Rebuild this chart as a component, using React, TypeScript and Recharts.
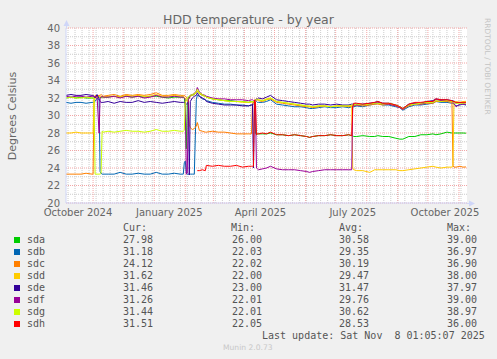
import { LineChart, Line, XAxis, YAxis, CartesianGrid } from "recharts";

// day 0 = 5 Oct 2024, last sample = 8 Nov 2025
const days = [
  0, 5, 10, 15, 20, 26,
  27, 28, 29, 31, 33, 34, 35, 36, 37,
  42, 48, 54, 60, 66, 72, 78, 84, 90, 96, 102, 108, 114,
  117, 118, 119, 120, 121, 122, 123, 124, 126, 128, 130, 131, 133, 136, 139,
  140, 146, 152, 158, 164, 170, 176, 182, 185,
  186, 187, 188, 189, 190, 191, 192,
  196, 200, 204, 210, 216, 222, 228, 234, 240, 243, 246, 252, 258, 264, 270, 276, 282, 285,
  286, 287,
  290, 296, 303, 308, 311, 316, 322, 329, 333, 336, 342, 348, 354, 360, 366, 369, 374, 380, 385,
  386, 387, 389, 393, 396, 399,
];

const sda = [
  32.0, 32.1, 32.0, 32.1, 32.0, 32.0,
  32.0, 32.0, 32.1, 32.2, 32.1, 32.1, 32.0, 32.1, 32.1,
  32.1, 32.2, 32.1, 32.2, 32.1, 32.2, 32.1, 32.2, 32.2, 32.1, 32.0, 32.1, 32.1,
  32.1, 32.0, 31.0, 26.2, 31.2, 32.0, 32.2, 32.3, 32.3, 32.4, 32.6, 32.8, 32.5, 32.3, 32.2,
  32.1, 31.9, 31.8, 31.7, 31.7, 31.6, 31.6, 31.5, 31.6,
  31.6, 31.5, 31.4, 28.0, 27.8, 27.9, 27.9,
  27.9, 27.9, 28.0, 27.8, 27.8, 27.7, 27.8, 27.7, 27.6, 27.5, 27.6, 27.7, 27.7, 27.8, 27.7, 27.7, 27.8, 27.7,
  27.7, 27.6,
  27.6, 27.7, 27.6, 27.6, 27.7, 27.6, 27.6, 27.4, 27.3, 27.3, 27.6, 27.6, 27.8, 27.8, 27.9, 27.8, 27.9, 28.1, 28.0,
  28.0, 28.0, 28.0, 28.0, 28.0, 27.98,
];

const sdb = [
  31.5, 31.4, 31.5, 31.5, 31.4, 31.5,
  31.5, 31.5, 31.6, 32.0, 31.8, 23.6, 23.4, 23.3, 23.3,
  23.3, 23.3, 23.5, 23.3, 23.3, 23.4, 23.3, 23.3, 23.5, 23.3, 23.3, 23.4, 23.3,
  23.3, 24.6, 24.8, 23.4, 23.3, 23.3, 23.3, 23.3, 23.3, 23.3, 31.8, 32.3, 32.2, 31.9, 31.8,
  31.7, 31.5, 31.4, 31.3, 31.3, 31.2, 31.2, 31.1, 31.2,
  31.2, 31.3, 31.4, 31.5, 31.6, 31.5, 31.5,
  31.5, 31.6, 31.8, 31.3, 31.2, 31.1, 31.0, 31.0, 30.9, 30.8, 30.8, 30.9, 31.0, 30.9, 30.9, 31.0, 30.9, 31.0,
  31.0, 31.0,
  31.1, 31.0, 31.2, 31.3, 31.4, 31.2, 31.2, 31.0, 30.9, 30.6, 31.0, 31.2, 31.2, 31.3, 31.4, 31.6, 31.5, 31.5, 31.4,
  31.4, 31.3, 31.1, 31.2, 31.3, 31.18,
];

const sdc = [
  23.3, 23.3, 23.3, 23.3, 23.4, 23.3,
  23.3, 31.8, 32.3, 32.2, 32.3, 32.3, 32.4, 32.3, 32.2,
  32.3, 32.4, 32.2, 32.4, 32.3, 32.4, 32.3, 32.4, 32.6, 32.3, 32.3, 32.4, 32.3,
  32.3, 32.3, 32.2, 32.1, 32.0, 31.9, 29.0, 28.6, 28.4, 28.5, 28.8, 29.2, 28.3, 28.2, 28.1,
  28.1, 28.2, 28.1, 28.1, 28.0, 27.9, 27.9, 27.9, 27.9,
  31.3, 31.6, 31.7, 31.8, 31.7, 31.8, 31.7,
  31.6, 31.8, 31.9, 31.5, 31.4, 31.3, 31.2, 31.1, 31.0, 31.0, 30.9, 31.0, 31.1, 31.0, 31.1, 31.1, 31.0, 31.1,
  31.1, 31.1,
  31.2, 31.1, 31.2, 31.3, 31.3, 31.2, 31.3, 31.1, 30.9, 30.7, 31.1, 31.3, 31.3, 31.4, 31.4, 31.6, 31.6, 31.6, 31.5,
  24.3, 24.1, 24.1, 24.2, 24.1, 24.12,
];

const sdd = [
  28.0, 28.0, 28.1, 28.0, 28.0, 28.0,
  28.0, 31.6, 32.0, 32.1, 32.1, 32.2, 32.1, 32.2, 32.1,
  32.2, 32.2, 32.1, 32.3, 32.2, 32.3, 32.2, 32.2, 32.4, 32.2, 32.2, 32.3, 32.2,
  32.2, 32.1, 32.0, 31.8, 31.6, 31.8, 32.0, 32.2, 32.3, 32.4, 32.6, 32.8, 32.5, 32.3, 32.2,
  32.1, 31.9, 31.8, 31.7, 31.6, 31.6, 31.5, 31.5, 31.5,
  31.5, 31.6, 31.7, 31.8, 31.8, 31.8, 31.8,
  31.7, 31.9, 32.0, 31.6, 31.5, 31.4, 31.3, 31.2, 31.1, 31.0, 31.0, 31.1, 31.1, 31.0, 31.1, 31.1, 31.1, 31.1,
  24.0, 23.8,
  23.7, 23.7, 23.5, 23.8, 23.8, 23.8, 23.8, 23.8, 23.7, 23.7, 23.8, 23.9, 24.0, 24.1, 24.2, 24.1, 24.0, 24.1, 24.1,
  24.3, 31.5, 31.6, 31.5, 31.6, 31.62,
];

const sde = [
  32.3, 32.4, 32.3, 32.3, 32.4, 32.3,
  32.3, 32.2, 32.0, 32.4, 31.9, 31.6, 31.5, 31.5, 31.5,
  31.6, 31.4, 31.6, 31.5, 31.5, 31.7, 31.5, 31.6, 31.5, 31.4, 31.5, 31.6, 31.5,
  31.5, 31.5, 31.4, 31.3, 31.4, 31.5, 23.2, 31.6, 32.0, 32.2, 32.3, 32.6, 32.2, 32.0, 31.8,
  31.6, 31.4, 31.3, 31.2, 31.2, 31.2, 31.1, 31.1, 31.2,
  31.3, 24.0, 31.6, 31.8, 31.9, 31.9, 32.0,
  31.9, 32.1, 32.3, 31.8, 31.7, 31.6, 31.5, 31.4, 31.3, 31.3, 31.2, 31.3, 31.3, 31.2, 31.3, 31.2, 31.2, 31.3,
  31.3, 31.3,
  31.3, 31.3, 31.4, 31.5, 31.6, 31.4, 31.4, 31.2, 31.0, 30.8, 31.3, 31.4, 31.4, 31.6, 31.7, 31.9, 31.8, 31.8, 31.7,
  31.7, 31.6, 31.4, 31.5, 31.4, 31.46,
];

const sdf = [
  32.2, 32.1, 32.2, 32.2, 32.1, 32.2,
  32.2, 32.1, 32.1, 32.2, 28.0, 32.0, 32.1, 32.2, 32.1,
  32.1, 32.2, 32.0, 32.2, 32.1, 32.2, 32.0, 32.1, 32.3, 32.1, 32.1, 32.2, 32.1,
  32.1, 32.0, 31.8, 23.3, 23.4, 31.8, 32.0, 32.3, 32.4, 32.5, 32.8, 33.2, 32.7, 32.4, 32.3,
  32.2, 32.0, 31.9, 31.9, 31.8, 31.8, 31.8, 31.7, 31.8,
  31.8, 31.7, 31.6, 31.2, 24.0, 23.9, 23.8,
  23.9, 24.0, 24.2, 23.9, 23.8, 23.8, 23.8, 23.7, 23.6, 23.5, 23.6, 23.7, 23.8, 23.8, 23.8, 23.8, 23.8, 23.8,
  31.0, 31.2,
  31.2, 31.2, 31.3, 31.4, 31.5, 31.3, 31.3, 31.1, 30.9, 30.7, 31.2, 31.4, 31.3, 31.5, 31.6, 31.8, 31.7, 31.7, 31.6,
  31.5, 31.4, 31.0, 31.3, 31.3, 31.26,
];

const sdg = [
  32.0, 32.1, 32.0, 32.0, 32.1, 32.0,
  32.0, 32.0, 23.3, 23.3, 23.3, 23.3, 23.4, 28.2, 28.1,
  28.2, 28.1, 28.2, 28.3, 28.2, 28.2, 28.1, 28.2, 28.4, 28.2, 28.2, 28.3, 28.2,
  28.2, 28.3, 31.5, 31.8, 32.0, 32.1, 32.2, 32.3, 32.4, 32.5, 32.7, 33.0, 32.6, 32.4, 32.2,
  32.1, 31.9, 31.8, 31.7, 31.6, 31.6, 31.6, 31.5, 31.6,
  31.6, 31.6, 31.7, 31.8, 31.8, 31.9, 31.8,
  31.7, 31.8, 32.0, 31.6, 31.5, 31.4, 31.3, 31.2, 31.1, 31.1, 31.0, 31.1, 31.1, 31.0, 31.1, 31.1, 31.1, 31.2,
  31.2, 31.2,
  31.3, 31.2, 31.3, 31.4, 31.4, 31.3, 31.4, 31.2, 31.0, 30.8, 31.2, 31.3, 31.4, 31.5, 31.5, 31.7, 31.6, 31.7, 31.6,
  31.6, 31.5, 31.4, 31.4, 31.4, 31.44,
];

const sdh = [
  null, null, null, null, null, null,
  null, null, null, null, null, null, null, null, null,
  null, null, null, null, null, null, null, null, null, null, null, null, null,
  null, null, null, null, null, null, null, null, null, null, null, 23.7, 23.7, 23.8, 23.7,
  24.3, 24.2, 24.3, 24.2, 24.2, 24.3, 24.1, 24.2, 24.2,
  24.2, 24.2, 31.8, 31.6, 27.8, 27.9, 27.9,
  28.0, 27.9, 28.1, 27.8, 27.8, 27.7, 27.8, 27.7, 27.6, 27.5, 27.6, 27.7, 27.7, 27.8, 27.7, 27.7, 27.8, 27.7,
  31.0, 31.4,
  31.4, 31.3, 31.4, 31.5, 31.6, 31.4, 31.4, 31.2, 31.0, 30.8, 31.3, 31.5, 31.5, 31.6, 31.6, 31.9, 31.8, 31.8, 31.7,
  31.6, 31.6, 31.5, 31.5, 31.5, 31.51,
];

const names = ["sda", "sdb", "sdc", "sdd", "sde", "sdf", "sdg", "sdh"];
const colors = ["#00cc00", "#0066b3", "#ff8000", "#ffcc00", "#330099", "#990099", "#ccff00", "#ff0000"];
const curVals = ["27.98", "31.18", "24.12", "31.62", "31.46", "31.26", "31.44", "31.51"];
const minVals = ["26.00", "22.03", "22.02", "22.00", "23.00", "22.01", "22.01", "22.05"];
const avgVals = ["30.58", "29.35", "30.19", "29.47", "31.47", "29.76", "30.62", "28.53"];
const maxVals = ["39.00", "36.97", "36.90", "38.00", "37.97", "39.00", "38.97", "36.00"];

const yTicks = [20, 22, 24, 26, 28, 30, 32, 34, 36, 38, 40];
const yMinor = [21, 23, 25, 27, 29, 31, 33, 35, 37, 39];
const monthStarts = [27, 57, 88, 119, 147, 178, 208, 239, 269, 300, 331, 361, 392];
const weekStarts = Array.from({ length: 57 }, (_, i) => 2 + 7 * i); // mondays
const labelDays = [12, 103, 194, 286, 378];
const labelText = ["October 2024", "January 2025", "April 2025", "July 2025", "October 2025"];

const series = [sda, sdb, sdc, sdd, sde, sdf, sdg, sdh];
const data = days.map((d, i) => {
  const row: Record<string, number | null> = { day: d };
  names.forEach((n, k) => {
    row[n] = series[k][i];
  });
  return row;
});

const FONT = "#666";
const AXIS = "#cfd6f8";
const mono = { fontFamily: "'DejaVu Sans Mono', monospace", fontSize: 10, color: "#555", lineHeight: "12px", whiteSpace: "pre" as const };

export default function App() {
  return (
    <div style={{ position: "absolute", left: 0, top: 0, width: 497, height: 359, background: "#f0f0f0", fontFamily: "'DejaVu Sans', sans-serif", overflow: "hidden" }}>
      <LineChart width={497} height={359} data={data} margin={{ top: 28, right: 30, bottom: 0, left: 0 }}>
        <CartesianGrid fill="#fff" stroke="#cccccc" strokeDasharray="1 1" horizontalValues={yMinor} verticalValues={weekStarts} />
        <CartesianGrid stroke="#f2a6a6" strokeDasharray="1 1" horizontalValues={yTicks} verticalValues={monthStarts} />
        <XAxis
          dataKey="day"
          type="number"
          domain={[0, 400]}
          ticks={labelDays}
          interval={0}
          tickFormatter={(v: number) => labelText[labelDays.indexOf(v)] ?? ""}
          height={156}
          tickSize={0}
          tickMargin={6}
          tickLine={false}
          axisLine={{ stroke: AXIS }}
          tick={{ fill: FONT, fontSize: 10, fontFamily: "DejaVu Sans" }}
        />
        <YAxis
          type="number"
          domain={[20, 40]}
          ticks={yTicks}
          interval={0}
          width={66}
          tickSize={0}
          tickMargin={6}
          tickLine={false}
          axisLine={{ stroke: AXIS }}
          tick={{ fill: FONT, fontSize: 10, fontFamily: "DejaVu Sans" }}
        />
        {names.map((n, k) => (
          <Line
            key={n}
            type="linear"
            dataKey={n}
            stroke={colors[k]}
            strokeWidth={1}
            dot={false}
            activeDot={false}
            connectNulls={false}
            isAnimationActive={false}
          />
        ))}
      </LineChart>

      {/* axis arrowheads */}
      <svg width={497} height={359} style={{ position: "absolute", left: 0, top: 0, pointerEvents: "none" }}>
        <line x1={66.5} y1={28} x2={66.5} y2={25} stroke={AXIS} />
        <path d="M63.5,26 L66.5,20 L69.5,26 z" fill={AXIS} />
        <line x1={467} y1={203.5} x2={470} y2={203.5} stroke={AXIS} />
        <path d="M469,200.5 L475,203.5 L469,206.5 z" fill={AXIS} />
      </svg>

      <div style={{ position: "absolute", left: 0, top: 12, width: 497, textAlign: "center", fontSize: 12.5, lineHeight: "15px", color: FONT }}>
        HDD temperature - by year
      </div>
      <div style={{ position: "absolute", left: 12, top: 116, width: 0, height: 0 }}>
        <div style={{ position: "absolute", transform: "translate(-50%, -50%) rotate(-90deg)", whiteSpace: "nowrap", fontSize: 11, color: FONT }}>
          Degrees Celsius
        </div>
      </div>
      <div style={{ position: "absolute", left: 483, top: 18, writingMode: "vertical-rl", fontSize: 7.5, color: "#c4c4c4", whiteSpace: "nowrap" }}>
        RRDTOOL / TOBI OETIKER
      </div>

      <div style={{ ...mono, position: "absolute", left: 123, top: 222 }}>Cur:</div>
      <div style={{ ...mono, position: "absolute", left: 231, top: 222 }}>Min:</div>
      <div style={{ ...mono, position: "absolute", left: 339, top: 222 }}>Avg:</div>
      <div style={{ ...mono, position: "absolute", left: 447, top: 222 }}>Max:</div>
      {names.map((n, k) => (
        <div key={n}>
          <div style={{ position: "absolute", left: 14, top: 237 + 12 * k, width: 6, height: 6, background: colors[k] }} />
          <div style={{ ...mono, position: "absolute", left: 27, top: 234 + 12 * k }}>{n}</div>
          <div style={{ ...mono, position: "absolute", left: 123, top: 234 + 12 * k }}>{curVals[k]}</div>
          <div style={{ ...mono, position: "absolute", left: 232, top: 234 + 12 * k }}>{minVals[k]}</div>
          <div style={{ ...mono, position: "absolute", left: 339, top: 234 + 12 * k }}>{avgVals[k]}</div>
          <div style={{ ...mono, position: "absolute", left: 447, top: 234 + 12 * k }}>{maxVals[k]}</div>
        </div>
      ))}
      <div style={{ ...mono, position: "absolute", left: 262, top: 330 }}>Last update: Sat Nov  8 01:05:07 2025</div>
      <div style={{ position: "absolute", left: 223, top: 343, fontSize: 7.6, lineHeight: "10px", color: "#c8c8c8" }}>Munin 2.0.73</div>
    </div>
  );
}
